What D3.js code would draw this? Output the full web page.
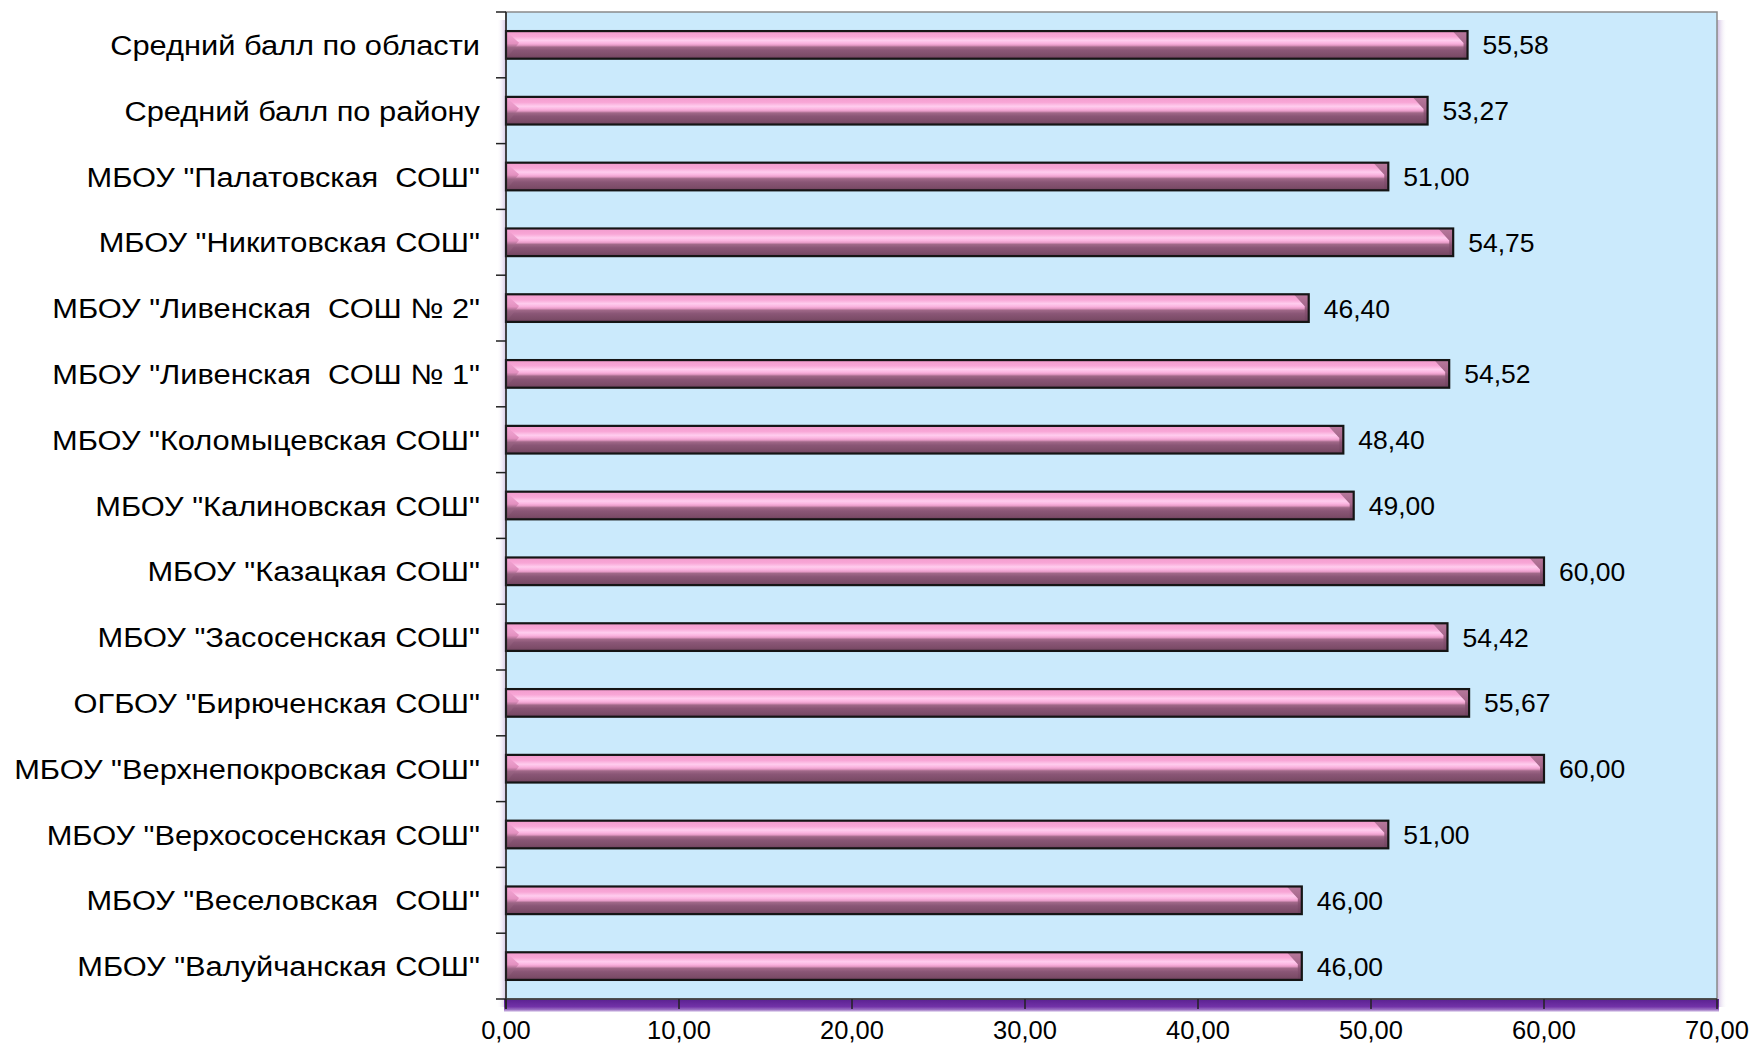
<!DOCTYPE html>
<html><head><meta charset="utf-8">
<script src="https://cdn.jsdelivr.net/npm/d3@7"></script>
<style>body{margin:0;background:#fff}svg{display:block}</style>
</head><body>
<svg id="chart" width="1757" height="1044"></svg>
<script>
const categories = [
  'Средний балл по области',
  'Средний балл по району',
  'МБОУ "Палатовская  СОШ"',
  'МБОУ "Никитовская СОШ"',
  'МБОУ "Ливенская  СОШ № 2"',
  'МБОУ "Ливенская  СОШ № 1"',
  'МБОУ "Коломыцевская СОШ"',
  'МБОУ "Калиновская СОШ"',
  'МБОУ "Казацкая СОШ"',
  'МБОУ "Засосенская СОШ"',
  'ОГБОУ "Бирюченская СОШ"',
  'МБОУ "Верхнепокровская СОШ"',
  'МБОУ "Верхососенская СОШ"',
  'МБОУ "Веселовская  СОШ"',
  'МБОУ "Валуйчанская СОШ"'
];
const values = [55.58, 53.27, 51.00, 54.75, 46.40, 54.52, 48.40, 49.00, 60.00, 54.42, 55.67, 60.00, 51.00, 46.00, 46.00];
const xTicks = [0, 10, 20, 30, 40, 50, 60, 70];

const fmt = v => v.toFixed(2).replace('.', ',');
const FONT = 'Liberation Sans, Arial, sans-serif';
const svg = d3.select('#chart');
const L = 506, R = 1717, T = 12, B = 999;
const x = d3.scaleLinear().domain([0, 70]).range([L, R]);
const y = d3.scaleBand().domain(categories).range([T, B]).paddingInner(0.58).paddingOuter(0.29);

const defs = svg.append('defs');
const g1 = defs.append('linearGradient').attr('id', 'barG').attr('x1', 0).attr('y1', 0).attr('x2', 0).attr('y2', 1);
[[0,'#f29bcd'],[0.2,'#f8a6d6'],[0.34,'#ffcdee'],[0.44,'#fbb4e0'],[0.51,'#e89cc8'],[0.58,'#a06888'],[0.7,'#8a5676'],[0.9,'#7c4c68'],[1,'#6c405c']]
  .forEach(([o,c]) => g1.append('stop').attr('offset', o).attr('stop-color', c));
const g2 = defs.append('linearGradient').attr('id', 'floorG').attr('x1', 0).attr('y1', 0).attr('x2', 0).attr('y2', 1);
[[0,'#5a2190',1],[0.6,'#7232a8',1],[0.85,'#9060bc',0.85],[1,'#cdb8e4',0.4]]
  .forEach(([o,c,op]) => g2.append('stop').attr('offset', o).attr('stop-color', c).attr('stop-opacity', op));
const g3 = defs.append('linearGradient').attr('id', 'shadowR').attr('x1', 0).attr('y1', 0).attr('x2', 1).attr('y2', 0);
[[0,'#c0a8d8',0.8],[1,'#ffffff',0]].forEach(([o,c,op]) => g3.append('stop').attr('offset', o).attr('stop-color', c).attr('stop-opacity', op));
const g4 = defs.append('linearGradient').attr('id', 'shadowL').attr('x1', 1).attr('y1', 0).attr('x2', 0).attr('y2', 0);
[[0,'#c0a8d8',0.7],[1,'#ffffff',0]].forEach(([o,c,op]) => g4.append('stop').attr('offset', o).attr('stop-color', c).attr('stop-opacity', op));
const g5 = defs.append('linearGradient').attr('id', 'capL').attr('x1', 0).attr('y1', 0).attr('x2', 0).attr('y2', 1);
[[0,'#f7a8d8'],[0.45,'#e08cbc'],[0.6,'#9a6484'],[1,'#7a4a66']].forEach(([o,c]) => g5.append('stop').attr('offset', o).attr('stop-color', c));
const g6 = defs.append('linearGradient').attr('id', 'capR').attr('x1', 0).attr('y1', 0).attr('x2', 0).attr('y2', 1);
[[0,'#b8789c'],[0.45,'#a4668a'],[0.6,'#8a5474'],[1,'#6e425e']].forEach(([o,c]) => g6.append('stop').attr('offset', o).attr('stop-color', c));

// shadows
svg.append('rect').attr('x', R).attr('y', T + 8).attr('width', 10).attr('height', B - T).attr('fill', 'url(#shadowR)');
svg.append('rect').attr('x', L - 9).attr('y', T + 8).attr('width', 9).attr('height', B - T).attr('fill', 'url(#shadowL)');
// floor
svg.append('rect').attr('x', L - 2).attr('y', B).attr('width', R - L + 4).attr('height', 13).attr('fill', 'url(#floorG)');

// plot background
svg.append('rect').attr('x', L).attr('y', T).attr('width', R - L).attr('height', B - T)
  .attr('fill', '#cbeafc').attr('stroke', '#8a8a8a').attr('stroke-width', 1.5);

// bars
const bars = svg.append('g');
categories.forEach((c, i) => {
  const v = values[i];
  const top = y(c), h = y.bandwidth(), x0 = x(0), x1 = x(v);
  const gg = bars.append('g');
  gg.append('rect').attr('x', x0).attr('y', top).attr('width', x1 - x0).attr('height', h)
    .attr('fill', 'url(#barG)');
  gg.append('path').attr('d', `M${x0},${top} L${x0 + 13},${top + h * 0.42} L${x0},${top + h}Z`).attr('fill', 'url(#capL)').attr('opacity', 0.9);
  gg.append('path').attr('d', `M${x1 - 15},${top} L${x1},${top} L${x1},${top + h} L${x1 - 4},${top + h} L${x1 - 4},${top + 12}Z`)
    .attr('fill', 'url(#capR)');
  gg.append('rect').attr('x', x0).attr('y', top).attr('width', x1 - x0).attr('height', h)
    .attr('fill', 'none').attr('stroke', '#151515').attr('stroke-width', 2.2);
  svg.append('text').attr('x', x1 + 15).attr('y', top + h / 2).attr('dy', '0.36em')
    .attr('font-family', FONT).attr('font-size', 26.5).attr('fill', '#000')
    .text(fmt(v));
});

// left axis
const yAxis = svg.append('g').attr('transform', `translate(${L},0)`);
yAxis.append('line').attr('x1', 0).attr('x2', 0).attr('y1', T).attr('y2', B + 10).attr('stroke', '#222').attr('stroke-width', 1.5);
d3.range(categories.length + 1).forEach(k => {
  const yy = T + k * (B - T) / categories.length;
  yAxis.append('line').attr('x1', -10).attr('x2', 0).attr('y1', yy).attr('y2', yy).attr('stroke', '#222').attr('stroke-width', 1.5);
});
categories.forEach(c => {
  svg.append('g').attr('transform', `translate(480,${y(c) + y.bandwidth() / 2}) scale(1.1,1)`)
    .append('text').attr('x', 0).attr('y', 0).attr('dy', '0.36em')
    .attr('text-anchor', 'end').attr('font-family', FONT).attr('font-size', 28)
    .attr('fill', '#000').style('white-space', 'pre').text(c);
});

// bottom axis
const xAxis = svg.append('g').attr('transform', `translate(0,${B})`);
xAxis.append('line').attr('x1', L).attr('x2', R).attr('y1', 0).attr('y2', 0).attr('stroke', '#333').attr('stroke-width', 1.5);
xTicks.forEach(t => {
  xAxis.append('line').attr('x1', x(t)).attr('x2', x(t)).attr('y1', 0).attr('y2', 10).attr('stroke', '#222').attr('stroke-width', 1.5);
  xAxis.append('text').attr('x', x(t)).attr('y', 40).attr('text-anchor', 'middle')
    .attr('font-family', FONT).attr('font-size', 25.5).attr('fill', '#000').text(fmt(t));
});
</script>
</body></html>
